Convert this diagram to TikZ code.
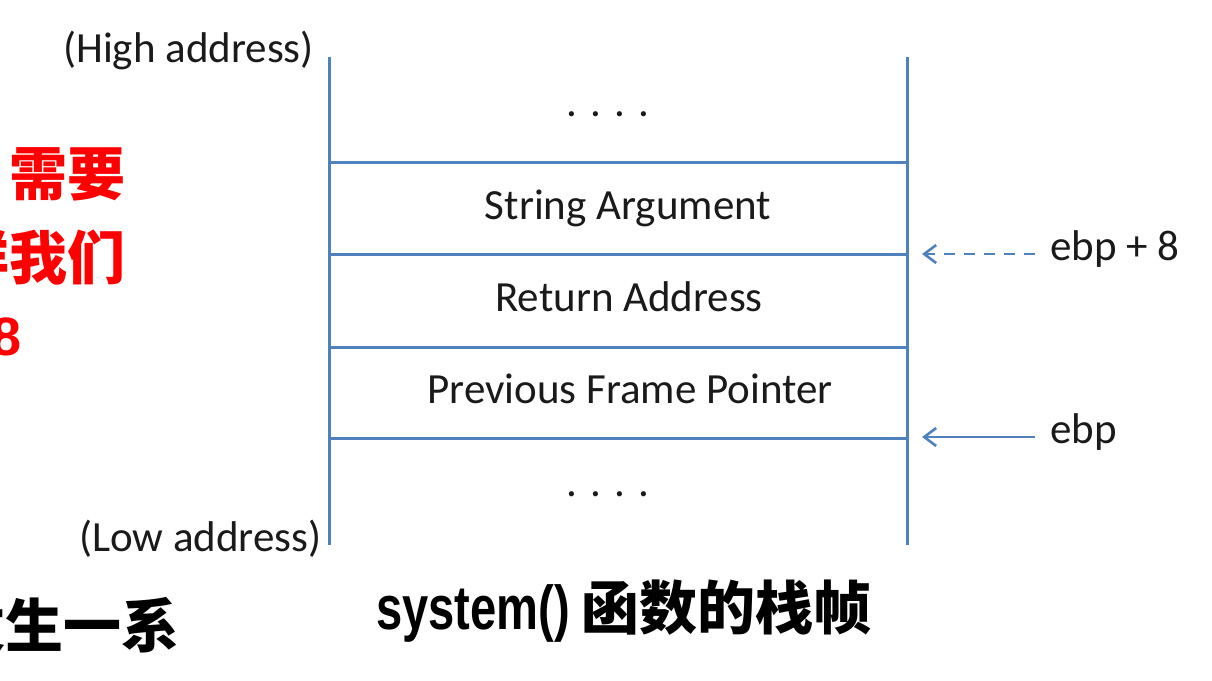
\documentclass[tikz,border=0pt]{standalone}
\usepackage{fontspec}
\setmainfont{Carlito}
\newfontfamily\cjk{Noto Sans CJK SC}
\newfontfamily\arialb{Liberation Sans}
\usetikzlibrary{arrows.meta}
\definecolor{stackblue}{HTML}{4F81BD}
\definecolor{redtxt}{HTML}{FF0000}
\definecolor{txtgrey}{HTML}{1A1A1A}
\begin{document}
\begin{tikzpicture}[x=1pt,y=-1pt,
  frame/.style={draw=stackblue,line width=3pt},
  lbl/.style={inner sep=0pt,text=txtgrey,font=\fontsize{43}{50}\selectfont},
  ptr/.style={draw=stackblue,line width=2.6pt,-{Straight Barb[length=12pt,width=18pt]}},
  redline/.style={inner sep=0pt,text=redtxt,font=\fontsize{58}{64}\cjk\bfseries},
  blackline/.style={inner sep=0pt,font=\fontsize{58}{64}\cjk\bfseries},
]
\clip (0,0) rectangle (1212,680);
\fill[white] (0,0) rectangle (1212,680);
% stack frame
\coordinate (tl) at (329,57);
\coordinate (tr) at (907,57);
\coordinate (bl) at (329,545);
\coordinate (br) at (907,545);
\coordinate (l1) at (329,162); \coordinate (r1) at (907,162);
\coordinate (l2) at (329,254); \coordinate (r2) at (907,254);
\coordinate (l3) at (329,347); \coordinate (r3) at (907,347);
\coordinate (l4) at (329,438); \coordinate (r4) at (907,438);
\draw[frame] (tl) -- (bl);
\draw[frame] (tr) -- (br);
\draw[frame] (l1) -- (r1);
\draw[frame] (l2) -- (r2);
\draw[frame] (l3) -- (r3);
\draw[frame] (l4) -- (r4);
% cell labels
\node[lbl,anchor=base] (dots1) at (608,116) {. . . .};
\node[lbl,anchor=base] (sarg) at (628,219) {String Argument};
\node[lbl,anchor=base] (ret) at (629,311) {Return Address};
\node[lbl,anchor=base] (prev) at (630,403) {Previous Frame Pointer};
\node[lbl,anchor=base] (dots2) at (608,496) {. . . .};
% address labels
\node[lbl,anchor=base west] (high) at (63,62) {(High address)};
\node[lbl,anchor=base west] (low) at (79,551) {(Low address)};
% pointers
\node[lbl,anchor=base west] (ebp8) at (1050,260) {ebp + 8};
\node[lbl,anchor=base west] (ebp) at (1050,443) {ebp};
\coordinate (p8s) at (1035,254); \coordinate (p8t) at (922,254);
\coordinate (p0s) at (1035,437); \coordinate (p0t) at (922,437);
\draw[ptr,dash pattern=on 11pt off 9pt] (p8s) -- (p8t);
\draw[ptr] (p0s) -- (p0t);
% caption
\node[inner sep=0pt,anchor=base west] (cap) at (376,629)
  {\scalebox{0.76}[1]{\fontsize{62}{70}\arialb\bfseries system()}\hspace{12pt}{\fontsize{58}{64}\cjk\bfseries 函数的栈帧}};
% cropped text at left edge
\node[redline,anchor=base east] (t1) at (126,195) {，需要};
\node[redline,anchor=base east] (t2) at (126,279) {这样我们};
\node[inner sep=0pt,text=redtxt,anchor=base east,font=\fontsize{54}{60}\arialb\bfseries] (t3) at (22,355) {+8};
\node[blackline,anchor=base east] (t4) at (180,647) {发生一系};
\end{tikzpicture}
\end{document}
